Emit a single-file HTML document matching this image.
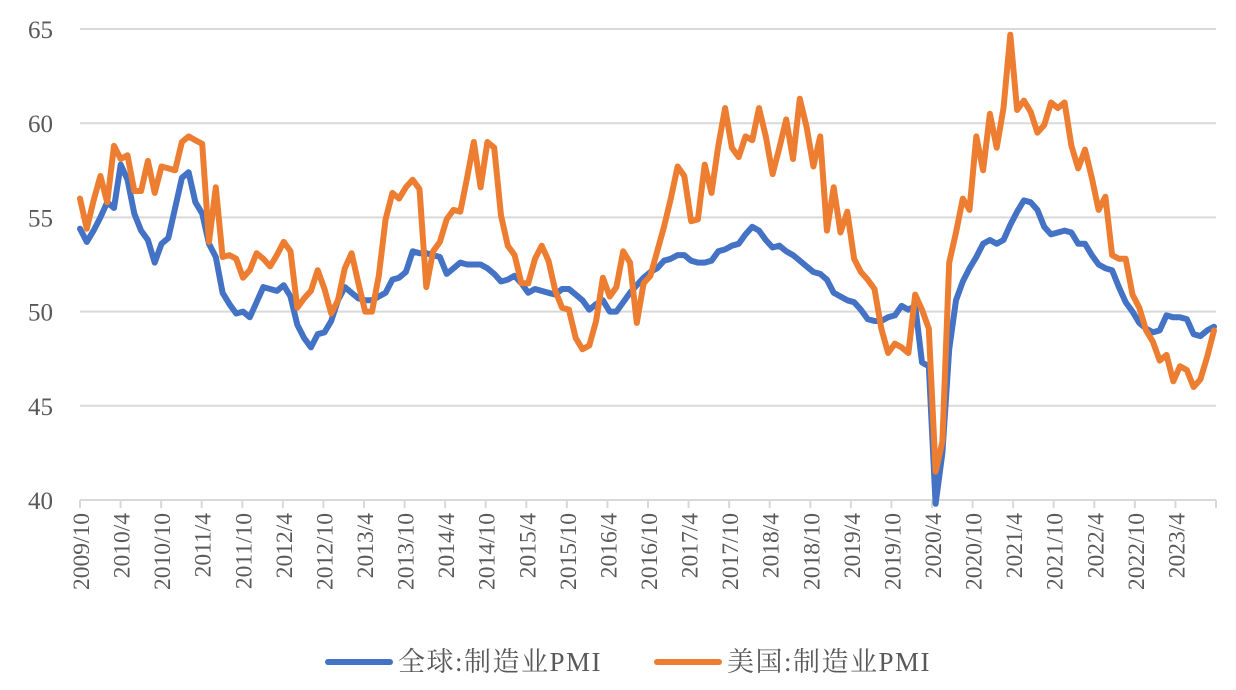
<!DOCTYPE html>
<html><head><meta charset="utf-8"><style>
html,body{margin:0;padding:0;background:#fff;}
svg{display:block;font-family:"Liberation Serif","Noto Serif CJK SC",serif;}
</style></head><body>
<svg id="chart" width="1236" height="690" viewBox="0 0 1236 690">
<g id="grid"></g>
<g id="yaxis"></g>
<g id="xaxis"></g>
<g id="series"></g>
<g>
<line x1="328" y1="662" x2="390" y2="662" stroke="#4472C4" stroke-width="6" stroke-linecap="round"/>
<text x="398" y="671" font-size="27" letter-spacing="1.5" fill="#595959">全球:制造业PMI</text>
<line x1="657" y1="662" x2="719" y2="662" stroke="#ED7D31" stroke-width="6" stroke-linecap="round"/>
<text x="727" y="671" font-size="27" letter-spacing="1.5" fill="#595959">美国:制造业PMI</text>
</g>
</svg>
<script>
const yTicks = [40, 45, 50, 55, 60, 65];
const xTickLabels = ["2009/10","2010/4","2010/10","2011/4","2011/10","2012/4","2012/10","2013/4","2013/10","2014/4","2014/10","2015/4","2015/10","2016/4","2016/10","2017/4","2017/10","2018/4","2018/10","2019/4","2019/10","2020/4","2020/10","2021/4","2021/10","2022/4","2022/10","2023/4"];
const globalPMI = [54.4,53.7,54.3,55.0,55.8,55.5,57.8,57.0,55.2,54.3,53.8,52.6,53.6,53.9,55.5,57.1,57.4,55.8,55.2,53.6,52.9,51.0,50.4,49.9,50.0,49.7,50.5,51.3,51.2,51.1,51.4,50.8,49.3,48.6,48.1,48.8,48.9,49.5,50.6,51.3,51.0,50.7,50.6,50.6,50.8,51.0,51.7,51.8,52.1,53.2,53.1,53.1,53.0,52.9,52.0,52.3,52.6,52.5,52.5,52.5,52.3,52.0,51.6,51.7,51.9,51.5,51.0,51.2,51.1,51.0,50.9,51.2,51.2,50.9,50.6,50.1,50.4,50.6,50.0,50.0,50.5,51.0,51.4,51.8,52.1,52.3,52.7,52.8,53.0,53.0,52.7,52.6,52.6,52.7,53.2,53.3,53.5,53.6,54.1,54.5,54.3,53.8,53.4,53.5,53.2,53.0,52.7,52.4,52.1,52.0,51.7,51.0,50.8,50.6,50.5,50.1,49.6,49.5,49.5,49.7,49.8,50.3,50.1,50.3,47.3,47.1,39.8,42.5,48.0,50.6,51.6,52.3,52.9,53.6,53.8,53.6,53.8,54.6,55.3,55.9,55.8,55.4,54.5,54.1,54.2,54.3,54.2,53.6,53.6,53.0,52.5,52.3,52.2,51.3,50.5,50.0,49.4,49.1,48.9,49.0,49.8,49.7,49.7,49.6,48.8,48.7,49.0,49.2];
const usPMI = [56.0,54.4,55.9,57.2,55.8,58.8,58.1,58.3,56.4,56.4,58.0,56.3,57.7,57.6,57.5,59.0,59.3,59.1,58.9,53.7,56.6,52.9,53.0,52.8,51.8,52.2,53.1,52.8,52.4,53.0,53.7,53.2,50.2,50.7,51.1,52.2,51.2,49.9,50.6,52.3,53.1,51.5,50.0,50.0,51.9,54.9,56.3,56.0,56.6,57.0,56.5,51.3,53.2,53.7,54.9,55.4,55.3,57.1,59.0,56.6,59.0,58.7,55.1,53.5,53.0,51.5,51.5,52.8,53.5,52.7,51.1,50.2,50.1,48.6,48.0,48.2,49.5,51.8,50.8,51.3,53.2,52.6,49.4,51.5,51.9,53.2,54.5,56.0,57.7,57.2,54.8,54.9,57.8,56.3,58.8,60.8,58.7,58.2,59.3,59.1,60.8,59.3,57.3,58.7,60.2,58.1,61.3,59.8,57.7,59.3,54.3,56.6,54.2,55.3,52.8,52.1,51.7,51.2,49.1,47.8,48.3,48.1,47.8,50.9,50.1,49.1,41.5,43.1,52.6,54.2,56.0,55.4,59.3,57.5,60.5,58.7,60.8,64.7,60.7,61.2,60.6,59.5,59.9,61.1,60.8,61.1,58.8,57.6,58.6,57.1,55.4,56.1,53.0,52.8,52.8,50.9,50.2,49.0,48.4,47.4,47.7,46.3,47.1,46.9,46.0,46.4,47.6,49.0];

const NS = "http://www.w3.org/2000/svg";
const X0 = 80, X1 = 1216, Y0 = 500, Y1 = 29, VMIN = 40, VMAX = 65;
const tickStep = (X1 - X0) / xTickLabels.length;
const ptStep = (1214 - X0) / (usPMI.length - 1);
function yScale(v){ return Y0 - (v - VMIN) / (VMAX - VMIN) * (Y0 - Y1); }
function xScale(i){ return X0 + i * ptStep; }
function mk(tag, attrs, parent){ const e = document.createElementNS(NS, tag); for (const k in attrs) e.setAttribute(k, attrs[k]); parent.appendChild(e); return e; }

const grid = document.getElementById('grid'), yax = document.getElementById('yaxis'), xax = document.getElementById('xaxis'), ser = document.getElementById('series');
yTicks.forEach(function(t){
  const y = yScale(t);
  if (t !== VMIN) {
    const g = mk('line', {x1: X0, x2: X1, y1: y, y2: y, stroke: '#d9d9d9', 'stroke-width': 2}, grid);
    
    
  }
  const tx = mk('text', {x: 53, y: y + 9, 'font-size': 25, fill: '#595959', 'text-anchor': 'end'}, yax);
  tx.textContent = t;
  
  
});
const ax = mk('line', {x1: X0, x2: X1, y1: Y0, y2: Y0, stroke: '#d9d9d9', 'stroke-width': 2}, xax);


for (let k = 0; k <= xTickLabels.length; k++) {
  const x = X0 + k * tickStep;
  const tk = mk('line', {x1: x, x2: x, y1: Y0, y2: Y0 + 8, stroke: '#d9d9d9', 'stroke-width': 2}, xax);
  
  
}
xTickLabels.forEach(function(lab, k){
  const x = X0 + k * tickStep + 9;
  const tx = mk('text', {transform: 'translate(' + x + ',513) rotate(-90)', 'font-size': 23.5, fill: '#595959', 'text-anchor': 'end'}, xax);
  tx.textContent = lab;
  
  
});
function drawLine(arr, color, name){
  const pts = arr.map(function(v, i){ return xScale(i).toFixed(1) + ',' + yScale(v).toFixed(1); }).join(' ');
  const p = mk('polyline', {points: pts, fill: 'none', stroke: color, 'stroke-width': 6, 'stroke-linejoin': 'round', 'stroke-linecap': 'round'}, ser);
  
  
}
drawLine(globalPMI, '#4472C4', 'global-pmi-line');
drawLine(usPMI, '#ED7D31', 'us-pmi-line');
</script>
</body></html>
